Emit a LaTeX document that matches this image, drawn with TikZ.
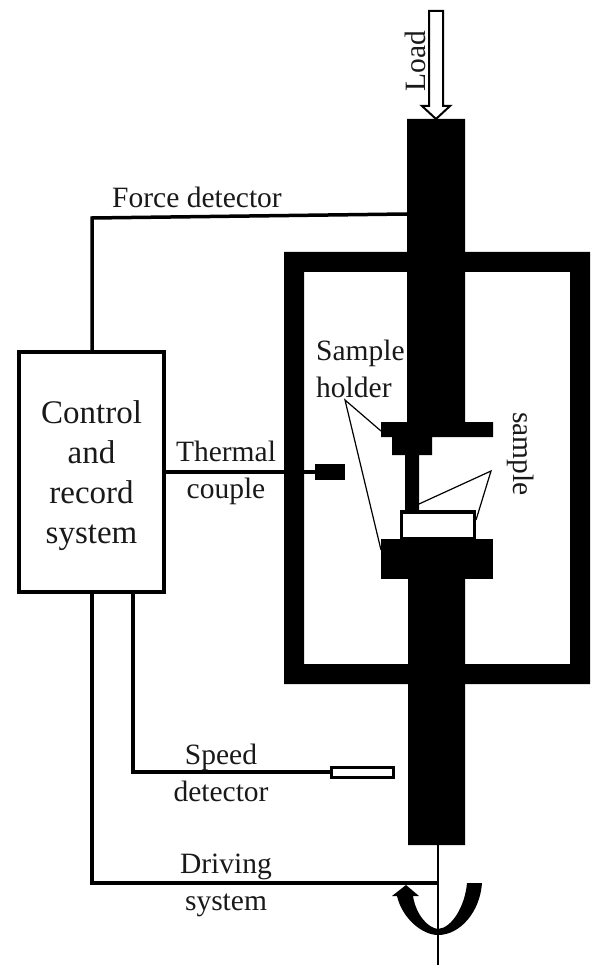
\documentclass[tikz,border=0pt]{standalone}
\usepackage{fontspec}
\setmainfont{Liberation Serif}
\newcommand{\lab}{\fontsize{29.5}{37}\selectfont}
\tikzset{
  solid block/.style={fill=black,draw=none,inner sep=0,outer sep=0},
  wire/.style={line width=3.5pt,draw=black,line join=miter},
  leader/.style={line width=1.2pt,draw=black},
  txt/.style={inner sep=0,font=\lab,align=center,text=black!90},
}
\begin{document}
\begin{tikzpicture}[x=1pt,y=-1pt]
\useasboundingbox (0,0) rectangle (590,965);
% furnace frame
\fill[even odd rule] (284,252) rectangle (590,684) (304,272) rectangle (570,664);
% rod and holders
\fill (407,119) rectangle (465,425)
 (381,422) rectangle (493,437)
 (392,437) rectangle (432,455)
 (405,455) rectangle (419,512)
 (408,579) rectangle (465,845);
% named anchors
\coordinate (rodtop) at (407,214);
\coordinate (rodend) at (438,845);
\coordinate (shaftend) at (438,965);
\coordinate (drivetap) at (438,883);
\node[draw=black,line width=4pt,minimum width=145pt,minimum height=240pt,inner sep=0,outer sep=0] (ctrl) at (91.5,472) {};
\node[inner sep=0,font=\fontsize{33}{40}\selectfont,align=center,text=black!90] (ctrltext) at (91.5,476) {Control\\and\\record\\system};
\node[draw=black,line width=3.5pt,fill=white,minimum width=73pt,minimum height=27pt,inner sep=0] (samplebox) at (438,525.5) {};
\node[solid block,minimum width=112pt,minimum height=40pt] (lowerholder) at (437,559) {};
\node[solid block,minimum width=30pt,minimum height=16pt] (tc) at (330,472) {};
\node[draw=black,line width=3pt,fill=white,minimum width=62pt,minimum height=10pt,inner sep=0,outer sep=0] (speed) at (362,772) {};
% wires
\draw[wire] (92,351) -- (92,218) -- (rodtop);
\draw[wire] (ctrl.east |- tc) -- (tc.west);
\draw[wire] (133,593) -- (133,772) -- (speed.west);
\draw[wire] (92,593) -- (92,883) -- (drivetap);
\draw[line width=2.2pt] (rodend) -- (shaftend);
% rotation arrow
\fill (482,883) -- (467,883) .. controls (465,906) and (452,928) .. (438,929)
  .. controls (428,928) and (416,915) .. (413,896) -- (419,896) -- (406,885) -- (392,896) -- (397,896)
  .. controls (402,918) and (422,935) .. (438,935) .. controls (460,935) and (480,912) .. (482,883) -- cycle;
% load arrow
\draw[line width=2pt,fill=white,line join=miter] (429,11) -- (443,11) -- (443,106) -- (450,106) -- (436,119) -- (422,106) -- (429,106) -- cycle;
% leaders
\coordinate (holdertip) at (345,400);
\coordinate (sampletip) at (491,471);
\draw[leader] (381,431) -- (holdertip) -- (381,550);
\draw[leader] (419,504) -- (sampletip) -- (476,520);
% labels
\node[txt,rotate=90] (load) at (415,61) {Load};
\node[txt] (lforce) at (197,197) {Force detector};
\node[txt,align=left,anchor=north west] (lholder) at (316,340) {Sample\\holder};
\node[txt,rotate=-90] (lsample) at (521,454) {sample};
\node[txt] (lthermal) at (226,473) {Thermal\\couple};
\node[txt] (lspeed) at (221,773) {Speed\\detector};
\node[txt] (ldrive) at (226,885) {Driving\\system};
\end{tikzpicture}
\end{document}
